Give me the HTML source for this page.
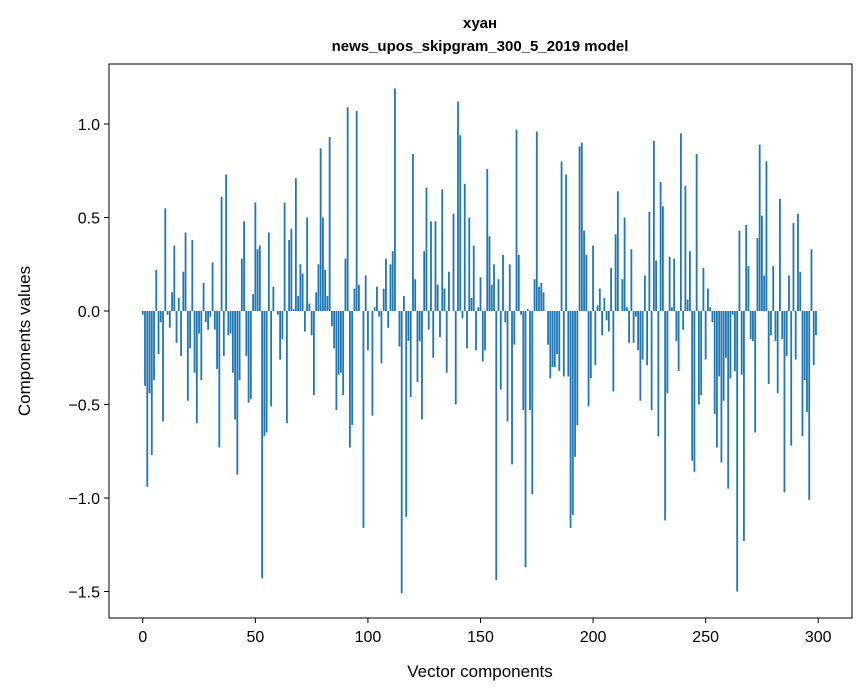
<!DOCTYPE html>
<html><head><meta charset="utf-8"><style>
body{margin:0;background:#fff;}
svg{display:block;font-family:"Liberation Sans","DejaVu Sans",sans-serif;}
</style></head><body>
<svg id="chart" width="867" height="696" viewBox="0 0 867 696">
<rect x="0" y="0" width="867" height="696" fill="#fff"/>
<text x="480" y="28" text-anchor="middle" font-size="15" font-weight="bold">хуан</text>
<text x="480" y="51" text-anchor="middle" font-size="15" font-weight="bold">news_upos_skipgram_300_5_2019 model</text>
<g id="bars"></g>
<g id="xticks"></g>
<g id="yticks"></g>
<rect x="109" y="64" width="743" height="554" fill="none" stroke="#000" stroke-width="1"/>
<text x="480" y="677" text-anchor="middle" font-size="17">Vector components</text>
<text transform="translate(30,341) rotate(-90)" text-anchor="middle" font-size="17">Components values</text>
</svg>
<script>
const values = [-0.02,-0.40,-0.94,-0.44,-0.77,-0.37,0.22,-0.23,-0.06,-0.59,
0.55,-0.02,-0.09,0.10,0.35,-0.17,0.07,-0.24,0.21,0.42,
-0.48,-0.20,0.38,-0.33,-0.60,-0.12,-0.37,0.15,-0.06,-0.10,
-0.03,0.26,-0.10,-0.31,-0.73,0.61,-0.24,0.73,-0.13,-0.12,
-0.33,-0.58,-0.875,-0.37,0.28,0.48,-0.24,-0.49,-0.47,0.09,
0.58,0.33,0.35,-1.43,-0.67,-0.65,0.42,-0.51,0.13,0,
-0.02,-0.26,-0.15,0.58,-0.60,0.38,0.44,0.01,0.71,0.08,
0.25,0.20,-0.11,0.50,0.04,-0.13,-0.45,0.10,0.25,0.87,
0.50,0.22,0.08,0.93,-0.08,-0.20,-0.53,-0.34,-0.33,-0.45,
0.28,1.09,-0.73,-0.61,0.12,1.07,0.14,0,-1.16,0.19,
-0.21,0,-0.56,0.02,0.13,-0.03,-0.28,0.12,0.28,-0.09,
0.25,0.32,1.19,0,-0.19,-1.51,0.08,-1.10,-0.16,-0.46,
0.84,0.17,-0.38,-0.16,-0.58,0.32,0.66,-0.10,0.48,-0.25,
0.48,0.14,-0.14,0.65,0.12,-0.33,0.21,0,0.52,-0.50,
1.12,0.94,-0.04,0.68,-0.20,0.50,0.07,0.35,-0.21,0.02,
0.18,-0.27,-0.21,0.76,0.40,0.14,0.25,-1.44,0.17,-0.42,
0.30,-0.06,-0.59,0.25,-0.82,-0.18,0.97,0.30,-0.02,-0.53,
-1.37,0.01,-0.53,-0.98,0.17,0.96,0.13,0.15,0.10,0,
-0.18,-0.36,-0.30,-0.30,-0.23,-0.32,0.80,-0.35,0.73,-0.35,
-1.16,-1.09,-0.78,-0.61,0.88,0.90,0.43,0.30,-0.51,-0.36,
0.35,-0.29,0.03,0.12,-0.13,0.07,-0.05,-0.11,0.23,-0.43,
0.41,0.64,0,0.17,0.50,0.02,-0.17,0.33,-0.17,-0.03,
-0.21,-0.48,-0.26,0.19,-0.29,0.53,-0.53,0.91,0.27,-0.67,
0.69,0.56,-1.12,-0.44,0.29,0.02,0.28,-0.16,-0.32,0.95,
-0.10,0.67,0.06,0.32,-0.80,-0.86,0.84,-0.50,-0.45,0.23,
-0.26,0.12,0.02,-0.06,-0.55,-0.73,-0.35,-0.81,-0.48,-0.25,
-0.95,-0.36,-0.02,-0.32,-1.50,0.43,-0.34,-1.23,0.46,0.24,
-0.15,-0.16,-0.65,0.39,0.89,0.51,0.19,0.80,-0.39,-0.13,
0.24,-0.16,-0.44,0.60,-0.15,-0.97,-0.24,0.19,-0.72,0.47,
-0.26,0.52,0.21,-0.67,-0.37,-0.54,-1.01,0.33,-0.29,-0.13];
const xTicks = [0,50,100,150,200,250,300];
const yTicks = [1.0,0.5,0.0,-0.5,-1.0,-1.5];
const yTickLabels = ["1.0","0.5","0.0","\u22120.5","\u22121.0","\u22121.5"];

const NS = "http://www.w3.org/2000/svg";
const X0 = 109, X1 = 852, XMIN = -15, XMAX = 315;
const Y0 = 311, YS = 187;
function sx(v){ return X0 + (v - XMIN) * (X1 - X0) / (XMAX - XMIN); }
function sy(v){ return Y0 - v * YS; }
const bw = 0.8 * (X1 - X0) / (XMAX - XMIN);

const bars = document.getElementById('bars');
values.forEach((v, i) => {
  const r = document.createElementNS(NS, 'rect');
  const y = Math.min(sy(v), sy(0));
  const h = Math.abs(sy(v) - sy(0));
  r.setAttribute('x', sx(i) - bw / 2);
  r.setAttribute('y', y);
  r.setAttribute('width', bw);
  r.setAttribute('height', Math.max(h, 0.01));
  r.setAttribute('fill', '#1f77b4');
  
  
  bars.appendChild(r);
});

const xg = document.getElementById('xticks');
xTicks.forEach(t => {
  const l = document.createElementNS(NS, 'line');
  l.setAttribute('x1', sx(t)); l.setAttribute('x2', sx(t));
  l.setAttribute('y1', 618); l.setAttribute('y2', 623);
  l.setAttribute('stroke', '#000');
  
  
  xg.appendChild(l);
  const tx = document.createElementNS(NS, 'text');
  tx.setAttribute('x', sx(t)); tx.setAttribute('y', 642);
  tx.setAttribute('text-anchor', 'middle');
  tx.setAttribute('font-size', '16');
  tx.textContent = String(t);
  
  
  xg.appendChild(tx);
});

const yg = document.getElementById('yticks');
yTicks.forEach((t, k) => {
  const l = document.createElementNS(NS, 'line');
  l.setAttribute('x1', 104); l.setAttribute('x2', 109);
  l.setAttribute('y1', sy(t)); l.setAttribute('y2', sy(t));
  l.setAttribute('stroke', '#000');
  
  
  yg.appendChild(l);
  const tx = document.createElementNS(NS, 'text');
  tx.setAttribute('x', 100); tx.setAttribute('y', sy(t) + 6);
  tx.setAttribute('text-anchor', 'end');
  tx.setAttribute('font-size', '16');
  tx.textContent = yTickLabels[k];
  
  
  yg.appendChild(tx);
});
</script>
</body></html>
